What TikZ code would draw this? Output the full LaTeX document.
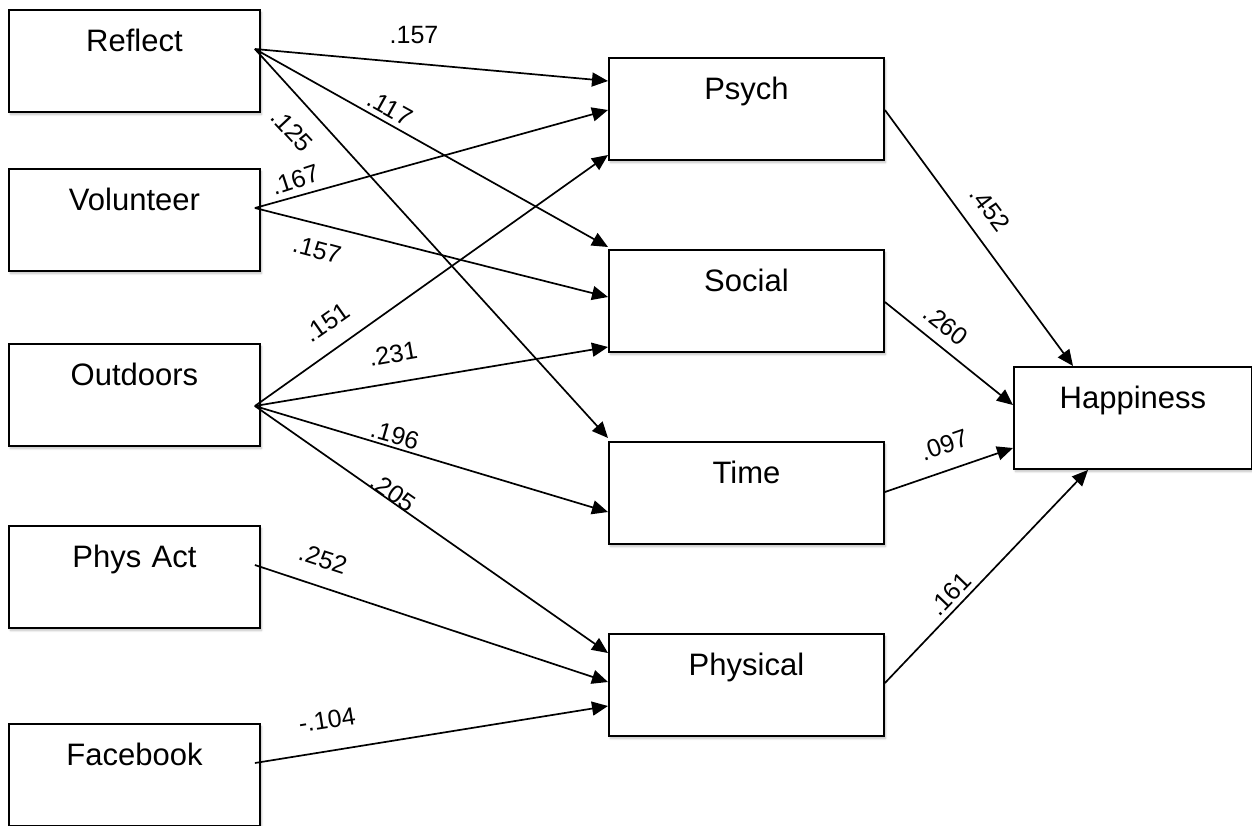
\documentclass[tikz,border=0pt]{standalone}
\usepackage{fontspec}
\setmainfont{Liberation Sans}
\usetikzlibrary{arrows.meta,calc,shadows.blur}
\tikzset{
  varbox/.style={draw=black, line width=1.9pt, fill=white, rectangle, anchor=north west,
    inner xsep=0pt, inner ysep=0pt, text height=42pt, text depth=60pt,
    font=\fontsize{31}{37}\selectfont,
    blur shadow={shadow xshift=1.5pt, shadow yshift=-2.5pt, shadow blur steps=6, shadow opacity=25}},
  leftbox/.style={varbox, text width=251pt, align=center},
  midbox/.style={varbox, text width=275pt, align=center},
  arr/.style={line width=1.7pt, -{Triangle[length=16pt,width=14pt]}},
  lbl/.style={font=\fontsize{25}{30}\selectfont, inner sep=0pt}
}
\begin{document}
\begin{tikzpicture}[x=1pt,y=-1pt]
\useasboundingbox (0,0) rectangle (1252,825);
% left boxes
\node[leftbox] (reflect) at (8,9) {Reflect};
\node[leftbox] (volunteer) at (8,168) {Volunteer};
\node[leftbox] (outdoors) at (8,343) {Outdoors};
\node[leftbox] (physact) at (8,525) {Phys Act};
\node[leftbox] (facebook) at (8,723) {Facebook};
% middle boxes
\node[midbox] (psych) at (608,57) {Psych};
\node[midbox] (social) at (608,249) {Social};
\node[midbox] (time) at (608,441) {Time};
\node[midbox] (physical) at (608,633) {Physical};
% outcome
\node[varbox, text width=238pt, align=center] (happy) at (1013,366) {Happiness};

% arrows from left
\draw[arr] ($(reflect.north east)+(-6,40)$) -- ($(psych.north west)+(0,24)$);
\draw[arr] ($(reflect.north east)+(-6,40)$) -- ($(social.north west)+(0,-2)$);
\draw[arr] ($(reflect.north east)+(-6,40)$) -- ($(time.north west)+(0,-3)$);
\draw[arr] ($(volunteer.north east)+(-6,40)$) -- ($(psych.north west)+(0,53)$);
\draw[arr] ($(volunteer.north east)+(-6,40)$) -- ($(social.north west)+(0,48)$);
\draw[arr] ($(outdoors.north east)+(-6,63)$) -- ($(psych.north west)+(0,98)$);
\draw[arr] ($(outdoors.north east)+(-6,63)$) -- ($(social.north west)+(0,98)$);
\draw[arr] ($(outdoors.north east)+(-6,63)$) -- ($(time.north west)+(0,71)$);
\draw[arr] ($(outdoors.north east)+(-6,63)$) -- ($(physical.north west)+(0,20)$);
\draw[arr] ($(physact.north east)+(-6,40)$) -- ($(physical.north west)+(0,49)$);
\draw[arr] ($(facebook.north east)+(-6,40)$) -- ($(physical.north west)+(0,73)$);
% arrows to happiness
\draw[arr] ($(psych.north east)+(0,53)$) -- ($(happy.north west)+(60,0)$);
\draw[arr] ($(social.north east)+(0,53)$) -- ($(happy.north west)+(0,39)$);
\draw[arr] ($(time.north east)+(0,51)$) -- ($(happy.north west)+(0,82)$);
\draw[arr] ($(physical.north east)+(0,50)$) -- ($(happy.south west)+(75,0)$);

% labels
\node[lbl] (l1) at (414,35) {.157};
\node[lbl, rotate=-29] (l2) at (390,108) {.117};
\node[lbl, rotate=-47] (l3) at (292,130) {.125};
\node[lbl, rotate=18] (l4) at (295,180) {.167};
\node[lbl, rotate=-15] (l5) at (317,250) {.157};
\node[lbl, rotate=35] (l6) at (327,323) {.151};
\node[lbl, rotate=10] (l7) at (393,354) {.231};
\node[lbl, rotate=-16] (l8) at (395,435) {.196};
\node[lbl, rotate=-35] (l9) at (393,492) {.205};
\node[lbl, rotate=-18] (l10) at (323,559) {.252};
\node[lbl, rotate=9] (l11) at (327,720) {-.104};
\node[lbl, rotate=-53] (l12) at (990,209) {.452};
\node[lbl, rotate=-38] (l13) at (946,325) {.260};
\node[lbl, rotate=19] (l14) at (944,445) {.097};
\node[lbl, rotate=46] (l15) at (950,594) {.161};
\end{tikzpicture}
\end{document}
